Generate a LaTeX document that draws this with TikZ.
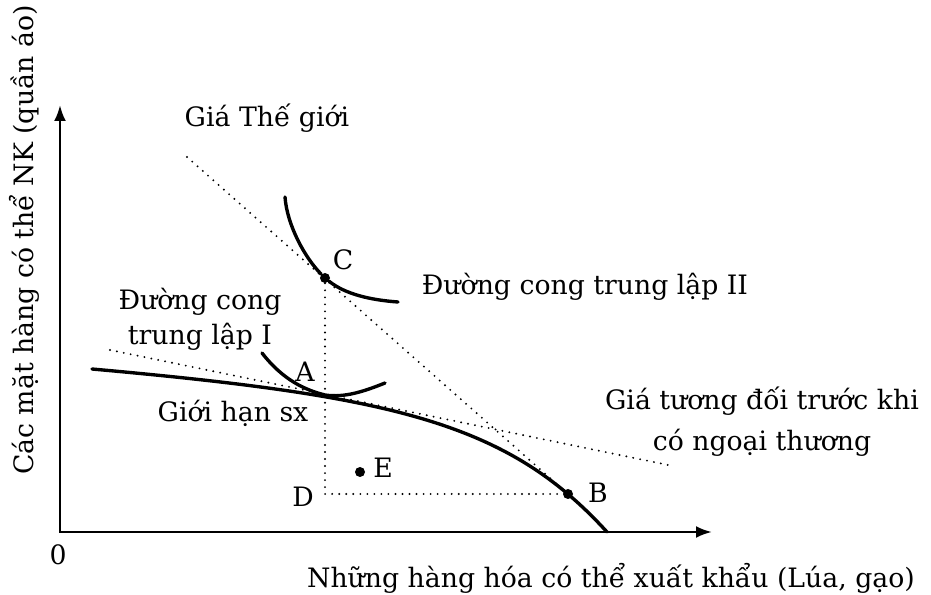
\documentclass[tikz,border=0pt]{standalone}
\usepackage{fontspec}
\setmainfont{DejaVu Serif}
\usetikzlibrary{arrows.meta,calc}

\begin{document}
\begin{tikzpicture}[
    x=0.25mm, y=-0.25mm,
    axisline/.style={
      {Latex[length=4mm,width=3mm]}-{Latex[length=4mm,width=3mm]},
      line width=1.9pt
    },
    curveline/.style={
      line width=2.4pt,
      line cap=round
    },
    priceline/.style={
      line width=1.5pt,
      line cap=round,
      dash pattern=on 0pt off 5pt
    },
    lbl/.style={
      font=\fontsize{19}{25}\selectfont,
      align=center,
      inner sep=0pt
    },
    dotpt/.style={
      circle,
      fill=black,
      inner sep=0pt,
      minimum size=2.5mm
    }
  ]
  \useasboundingbox (0,0) rectangle (931,595);

  % truc toa do
  \coordinate (O) at (60,532);
  \coordinate (ytip) at (60,105);
  \coordinate (xtip) at (712,532);
  \draw[axisline] (ytip) |- (xtip);

  % cac diem
  \coordinate (A) at (325,395);
  \node[dotpt] (C) at (325,278) {};
  \node[dotpt] (B) at (568,494) {};
  \node[dotpt] (E) at (360,472) {};
  \coordinate (wstart) at (187,157);
  \coordinate (rstart) at (110,350);
  \coordinate (rend) at (673,466);

  % duong gia
  \draw[priceline] (wstart) -- (B);
  \draw[priceline] (rstart) -- (rend);
  \draw[priceline] (C) |- (B);

  % gioi han san xuat
  \draw[curveline] (92,369) .. controls (392,396) and (507,422) .. (607,532);

  % duong cong trung lap
  \draw[curveline] (262,353) .. controls (283,380) and (305,390) .. (A)
    .. controls (345,398) and (365,391) .. (385,383);
  \draw[curveline] (285,197) .. controls (287,225) and (305,258) .. (C)
    .. controls (345,294) and (370,300) .. (398,302);

  % nhan
  \node[lbl] (labO) at (58,555) {0};
  \node[lbl] (labA) at (305,372) {A};
  \node[lbl] (labB) at (598,493) {B};
  \node[lbl] (labC) at (343,260) {C};
  \node[lbl] (labD) at (303,497) {D};
  \node[lbl] (labE) at (383,468) {E};
  \node[lbl] (world) at (267,118) {Giá Thế giới};
  \node[lbl] (ic2) at (585,287) {Đường cong trung lập II};
  \node[lbl] (ic1) at (200,319) {Đường cong\\trung lập I};
  \node[lbl] (ppf) at (233,413) {Giới hạn sx};
  \node[lbl, font=\fontsize{19}{29}\selectfont] (rel) at (762,422) {Giá tương đối trước khi\\có ngoại thương};
  \node[lbl] (xlab) at (611,578) {Những hàng hóa có thể xuất khẩu (Lúa, gạo)};
  \node[lbl, rotate=90] (ylab) at (24,240) {Các mặt hàng có thể NK (quần áo)};
\end{tikzpicture}
\end{document}
